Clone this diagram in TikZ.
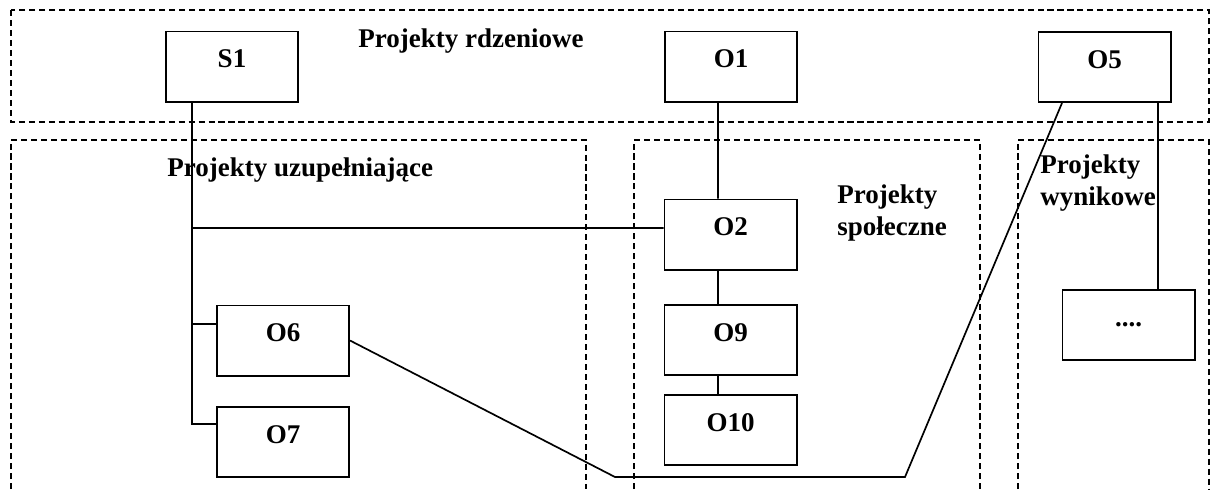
\documentclass[tikz,border=0pt]{standalone}
\usepackage{fontspec}
\setmainfont{Liberation Serif}
\usetikzlibrary{calc}

\begin{document}
\begin{tikzpicture}[x=0.025cm,y=-0.025cm,semithick,
  box/.style={draw,line width=1.4pt,minimum width=3.3cm,minimum height=1.75cm,inner sep=0pt,
    text height=0.36cm,text depth=0.3cm,font=\fontsize{19.2}{22}\selectfont\bfseries},
  zone/.style={line width=1pt,dash pattern=on 4.3pt off 2.8pt},
  title/.style={inner sep=0pt,align=left,anchor=base west,font=\fontsize{19.2}{22.5}\selectfont\bfseries}]
\useasboundingbox (0,0) rectangle (1210,489);
% obszary
\draw[zone] (11,10) rectangle (1209,122);
\draw[zone] (11,489)--(11,140)--(586,140)--(586,489);
\draw[zone] (634,489)--(634,140)--(980,140)--(980,489);
\draw[zone] (1018,489)--(1018,140)--(1209,140)--(1209,489);
\node[title] (Trdz) at (358,47) {Projekty rdzeniowe};
\node[title] (Tuzu) at (167,176) {Projekty uzupełniające};
\node[title] (Tspo) at (837,235) {Projekty\\społeczne};
\node[title] (Twyn) at (1040,205) {Projekty\\wynikowe};
% projekty
\node[box] (S1) at (232,66.5) {S1};
\node[box] (O1) at (731,66.5) {O1};
\node[box] (O5) at (1104.5,67) {O5};
\node[box] (O2) at (730.5,234.5) {O2};
\node[box] (O6) at (283,340.5) {O6};
\node[box] (O7) at (283,442) {O7};
\node[box] (O9) at (730.5,340) {O9};
\node[box] (O10) at (730.5,430) {O10};
\node[box] (Odots) at (1128.5,325) {....};
% polaczenia
\coordinate (a) at (192,228);
\coordinate (b) at (192,324);
\coordinate (c) at (192,424);
\coordinate (m) at (718,0);
\coordinate (r) at (1158,0);
\coordinate (d) at (1062,0);
\coordinate (p) at (905,477);
\coordinate (q) at (615,477);
\draw[line width=1.2pt](S1.south -| a)--(c)--(O7.west |- c)(a)--(O2.west |- a)(b)--(O6.west |- b)
  (O1.south -| m)--(O2.north -| m)(O2.south -| m)--(O9.north -| m)(O9.south -| m)--(O10.north -| m)
  (O5.south -| r)--(Odots.north -| r)(O5.south -| d)--(p)--(q)--(O6.east);
\end{tikzpicture}
\end{document}
